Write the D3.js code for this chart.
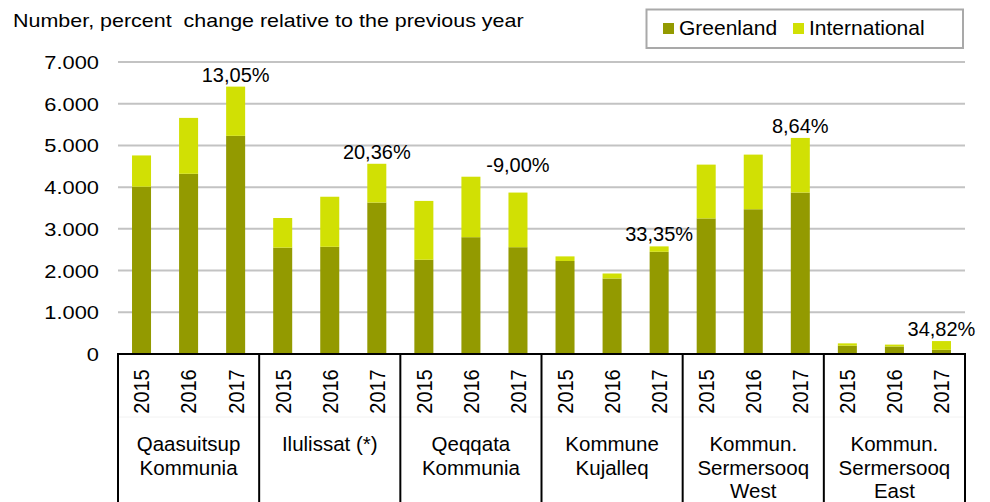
<!DOCTYPE html>
<html>
<head>
<meta charset="utf-8">
<script src="https://cdn.jsdelivr.net/npm/d3@7"></script>
<style>
    body { margin: 0; background: #fff; }
    svg { display: block; font-family: "Liberation Sans", Arial, sans-serif; }
</style>
</head>
<body>
<svg width="990" height="502"></svg>
<script>
// data
var groups = ["Qaasuitsup Kommunia", "Ilulissat (*)", "Qeqqata Kommunia",
    "Kommune Kujalleq", "Kommun. Sermersooq West", "Kommun. Sermersooq East"];
var groupLines = [["Qaasuitsup", "Kommunia"], ["Ilulissat (*)"], ["Qeqqata", "Kommunia"],
    ["Kommune", "Kujalleq"], ["Kommun.", "Sermersooq", "West"], ["Kommun.", "Sermersooq", "East"]];
var years = ["2015", "2016", "2017"];
var greenland = [4010, 4320, 5230, 2550, 2570, 3630, 2260, 2800, 2560,
    2230, 1810, 2450, 3250, 3470, 3870, 200, 180, 100];
var international = [750, 1340, 1180, 710, 1200, 930, 1410, 1450, 1310,
    110, 120, 130, 1290, 1310, 1310, 55, 45, 210];
var changeLabels = ["13,05%", "20,36%", "-9,00%", "33,35%", "8,64%", "34,82%"];
var yTicks = [0, 1000, 2000, 3000, 4000, 5000, 6000, 7000];
var seriesNames = ["Greenland", "International"];

var colors = { Greenland: "#939a00", International: "#d1e004" };

var svg = d3.select("svg");

var locale = d3.formatLocale({ decimal: ",", thousands: ".", grouping: [3], currency: ["", ""] });
var fmt = locale.format(",d");

var x0 = d3.scaleBand().domain(groups).range([118, 965]).padding(0);
var x1 = d3.scaleBand().domain(years).range([0, x0.bandwidth()])
    .paddingInner(0.596).paddingOuter(0.298);
var y = d3.scaleLinear().domain([0, 7000]).range([354, 62]);

// text stretched horizontally like the reference
function place(sel, px, py, sx, rot) {
    sel.attr("transform", "translate(" + px + "," + py + ") scale(" + sx + ",1)" +
        (rot ? " rotate(" + rot + ")" : ""));
}

// grid
svg.append("g").selectAll("line")
    .data(yTicks.filter(d => d > 0))
    .enter().append("line")
    .attr("x1", 118).attr("x2", 965)
    .attr("y1", d => y(d)).attr("y2", d => y(d))
    .attr("stroke", "#c3c3c3").attr("stroke-width", 2);

// tick labels
svg.append("g").selectAll("text")
    .data(yTicks)
    .enter().append("text")
    .text(d => fmt(d))
    .attr("text-anchor", "end")
    .attr("dominant-baseline", "central")
    .attr("font-size", 19)
    .attr("fill", "#000")
    .each(function (d) { place(d3.select(this), 99, y(d), 1.15); });

// bars
var rows = [];
groups.forEach(function (g, gi) {
    years.forEach(function (yr, yi) {
        var i = gi * 3 + yi;
        rows.push({ group: g, year: yr, Greenland: greenland[i], International: international[i] });
    });
});
var stacked = d3.stack().keys(seriesNames)(rows);

svg.append("g").selectAll("g")
    .data(stacked)
    .enter().append("g")
    .attr("fill", d => colors[d.key])
    .selectAll("rect")
    .data(d => d)
    .enter().append("rect")
    .attr("x", d => x0(d.data.group) + x1(d.data.year))
    .attr("width", x1.bandwidth())
    .attr("y", d => y(d[1]))
    .attr("height", d => y(d[0]) - y(d[1]));

// percent change labels
svg.append("g").selectAll("text")
    .data(groups)
    .enter().append("text")
    .text((d, i) => changeLabels[i])
    .attr("text-anchor", "middle")
    .attr("font-size", 20)
    .attr("x", d => x0(d) + x1("2017") + x1.bandwidth() / 2)
    .attr("y", (d, i) => y(d3.max(rows.filter(r => r.group === d), r => r.Greenland + r.International)) - 5);

// category axis
var axis = svg.append("g");
axis.append("line")
    .attr("x1", 117).attr("x2", 966).attr("y1", 354).attr("y2", 354)
    .attr("stroke", "#000").attr("stroke-width", 2);
axis.append("line")
    .attr("x1", 118).attr("x2", 965).attr("y1", 417).attr("y2", 417)
    .attr("stroke", "#f2f2f2").attr("stroke-width", 1);
axis.selectAll(".div")
    .data(groups.concat(["end"]))
    .enter().append("line")
    .attr("class", "div")
    .attr("x1", (d, i) => i < groups.length ? x0(d) : x0.range()[1])
    .attr("x2", (d, i) => i < groups.length ? x0(d) : x0.range()[1])
    .attr("y1", 353).attr("y2", 502)
    .attr("stroke", "#000").attr("stroke-width", 2);

groups.forEach(function (g, gi) {
    years.forEach(function (yr) {
        axis.append("text")
            .text(yr)
            .attr("text-anchor", "middle")
            .attr("dominant-baseline", "central")
            .attr("font-size", 20)
            .call(place, x0(g) + x1(yr) + x1.bandwidth() / 2, 391.5, 1.12, -90);
    });
    axis.append("text")
        .attr("text-anchor", "middle")
        .attr("font-size", 20.5)
        .selectAll("tspan")
        .data(groupLines[gi])
        .enter().append("tspan")
        .attr("x", x0(g) + x0.bandwidth() / 2)
        .attr("y", (d, i) => 451 + i * 23.7)
        .text(d => d);
});

// title
svg.append("text")
    .text("Number, percent\u00a0 change relative to the previous year")
    .attr("font-size", 19)
    .call(place, 13, 27, 1.13);

// legend
var legend = svg.append("g");
legend.append("rect")
    .attr("x", 646.5).attr("y", 9.5).attr("width", 316.5).attr("height", 38.5)
    .attr("fill", "#fff").attr("stroke", "#a9a9a9").attr("stroke-width", 2);
var legX = [663, 793];
seriesNames.forEach(function (s, i) {
    legend.append("rect")
        .attr("x", legX[i]).attr("y", 23).attr("width", 11).attr("height", 11)
        .attr("fill", colors[s]);
    legend.append("text")
        .text(s)
        .attr("x", legX[i] + 16).attr("y", 35)
        .attr("font-size", 21);
});
</script>
</body>
</html>
